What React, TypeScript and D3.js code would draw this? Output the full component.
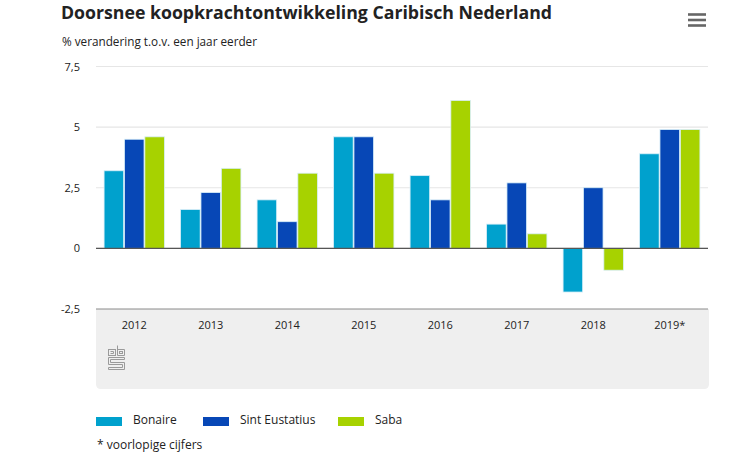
import React from "react";
import * as d3 from "d3";

const years = ["2012", "2013", "2014", "2015", "2016", "2017", "2018", "2019*"];
const seriesNames = ["Bonaire", "Sint Eustatius", "Saba"];
const bonaire = [3.2, 1.6, 2.0, 4.6, 3.0, 1.0, -1.8, 3.9];
const sintEustatius = [4.5, 2.3, 1.1, 4.6, 2.0, 2.7, 2.5, 4.9];
const saba = [4.6, 3.3, 3.1, 3.1, 6.1, 0.6, -0.9, 4.9];
const yTicks = [-2.5, 0, 2.5, 5, 7.5];
const colors = ["#00a1cd", "#0747b6", "#a7d200"];

const FONT = "'Open Sans', 'DejaVu Sans', sans-serif";

export default function App() {
  const W = 750, H = 455;
  const x0 = 96, x1 = 708;
  const y = d3.scaleLinear().domain([-2.5, 7.5]).range([309, 66.5]);
  const xb = d3.scaleBand<string>().domain(years).range([x0, x1]).paddingInner(0.19).paddingOuter(0.095);
  const xi = d3.scaleBand<string>().domain(seriesNames).range([0, xb.bandwidth()]).padding(0.04);
  const data = [bonaire, sintEustatius, saba];
  const fmt = (v: number) => String(v).replace(".", ",");

  return (
    <svg width={W} height={H} style={{ position: "absolute", left: 0, top: 0, background: "#fff" }} fontFamily={FONT}>
      <text x={61} y={19} fontSize={18.5} fontWeight={700} fill="#222" textLength={491} lengthAdjust="spacingAndGlyphs">
        Doorsnee koopkrachtontwikkeling Caribisch Nederland
      </text>
      <text x={62} y={46} fontSize={12} fill="#222" textLength={195} lengthAdjust="spacingAndGlyphs">
        % verandering t.o.v. een jaar eerder
      </text>
      {/* hamburger */}
      {[14.5, 20, 25.5].map((yy, i) => (
        <rect key={i} x={688} y={yy - 1.3} width={18} height={2.6} fill="#666" />
      ))}

      {/* grey bottom box */}
      <path
        d={`M${x0},309 H${x1 + 1} V${384} Q${x1 + 1},389 ${x1 - 4},389 H${x0 + 5} Q${x0},389 ${x0},384 Z`}
        fill="#efefef"
      />

      {/* gridlines */}
      {yTicks.map((t) => (
        <line
          key={t}
          x1={x0}
          x2={x1}
          y1={y(t)}
          y2={y(t)}
          stroke={t === -2.5 ? "#8a8a8a" : "#e6e6e6"}
          strokeWidth={t === -2.5 ? 1 : 1.2}
        />
      ))}
      {yTicks.map((t) => (
        <text key={"l" + t} x={80} y={y(t) + 4} fontSize={11} textAnchor="end" fill="#222">
          {fmt(t)}
        </text>
      ))}

      {/* bars */}
      {years.map((yr, i) => (
        <g key={yr} transform={`translate(${xb(yr)},0)`}>
          {data.map((arr, s) => {
            const v = arr[i];
            const top = y(Math.max(0, v));
            const bot = y(Math.min(0, v));
            return (
              <rect
                key={s}
                x={xi(seriesNames[s])}
                y={top}
                width={xi.bandwidth()}
                height={bot - top}
                fill={colors[s]}
                stroke="#d8eef8"
                strokeWidth={0.8}
              />
            );
          })}
        </g>
      ))}
      <line x1={x0} x2={x1} y1={y(0)} y2={y(0)} stroke="#555" strokeWidth={1.3} />

      {/* x labels */}
      {years.map((yr) => (
        <text key={"x" + yr} x={(xb(yr) as number) + xb.bandwidth() / 2} y={329} fontSize={11} textAnchor="middle" fill="#222">
          {yr}
        </text>
      ))}

      {/* cbs logo */}
      <g fill="none" stroke="#9a9a9a" strokeWidth={1}>
        <rect x={108.5} y={349.5} width={7} height={6} />
        <path d="M110.5,351.5 h3 v2 h-3" />
        <path d="M117.5,345.5 v10 h7 v-6 h-7" />
        <rect x={119.5} y={351.5} width={3} height={2} />
        <path d="M108.5,357.5 h16 v2 h-14 v3 h14 v7 h-16 v-2 h14 v-3 h-14 z" />
      </g>

      {/* legend */}
      {seriesNames.map((n, i) => {
        const lx = [96, 203, 338][i];
        return (
          <g key={n}>
            <rect x={lx} y={417} width={26} height={9} fill={colors[i]} />
            <text x={lx + 37} y={424} fontSize={12} fill="#222">
              {n}
            </text>
          </g>
        );
      })}
      <text x={97} y={449} fontSize={12} fill="#222">
        * voorlopige cijfers
      </text>
    </svg>
  );
}
